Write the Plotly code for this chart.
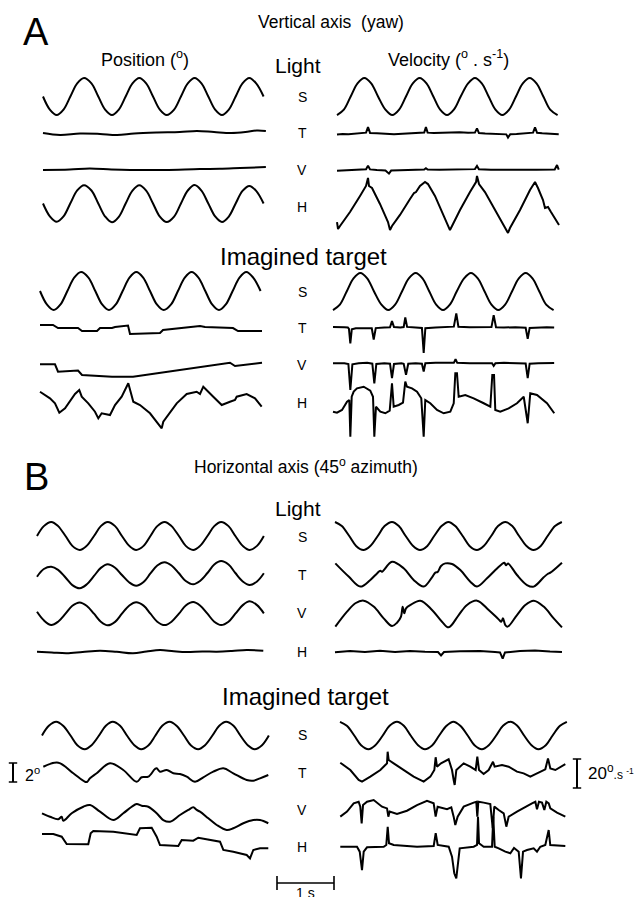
import plotly.graph_objects as go

W, H = 637, 897
PX_PER_S = 57.0      # horizontal scale: pixels per second
PX_PER_DEG = 9.5     # position traces: pixels per degree
PX_PER_DEGS = 1.45   # velocity traces: pixels per deg/s
FONT = "Liberation Sans, Arial, Helvetica, sans-serif"

# ---------------- data (time in s, position in deg, velocity in deg/s) ----------------
T_A = [0.00, 0.12, 0.24, 0.36, 0.48, 0.60, 0.72, 0.85, 0.97, 1.09, 1.21, 1.33, 1.45, 1.57, 1.69, 1.81,
       1.93, 2.05, 2.17, 2.30, 2.42, 2.54, 2.66, 2.78, 2.90, 3.02, 3.14, 3.26, 3.38, 3.50, 3.62, 3.74, 3.87]
T_B = [0.00, 0.12, 0.25, 0.37, 0.50, 0.62, 0.75, 0.87, 1.00, 1.12, 1.24, 1.37, 1.49, 1.62, 1.74, 1.87,
       1.99, 2.11, 2.24, 2.36, 2.49, 2.61, 2.74, 2.86, 2.99, 3.11, 3.23, 3.36, 3.48, 3.61, 3.73, 3.86, 3.98]

# --- A, Light, position ---
A_L_POS_S = [0.0, -1.38, -1.95, -1.38, 0.0, 1.38, 1.95, 1.38, 0.0, -1.38, -1.95, -1.38, 0.0, 1.38, 1.95, 1.38,
             0.0, -1.38, -1.95, -1.38, 0.0, 1.38, 1.95, 1.38, 0.0, -1.38, -1.95, -1.38, 0.0, 1.38, 1.95, 1.38, 0.0]
A_L_POS_T_t = [0.0, 0.30, 0.65, 1.0, 1.30, 1.60, 2.0, 2.40, 2.70, 3.0, 3.30, 3.55, 3.75, 3.91]
A_L_POS_T_v = [0.0, -0.21, -0.05, -0.10, -0.21, -0.05, 0.05, 0.10, 0.21, 0.10, 0.0, 0.10, 0.26, 0.21]
A_L_POS_V_t = [0.0, 0.47, 0.82, 1.20, 1.53, 2.14, 2.75, 3.10, 3.46, 3.91]
A_L_POS_V_v = [-0.10, -0.05, 0.05, -0.05, -0.10, -0.10, 0.0, 0.02, 0.10, 0.20]
A_L_POS_H = [0.0, -1.35, -1.92, -1.36, 0.02, 1.38, 1.93, 1.37, 0.0, -1.37, -1.98, -1.40, 0.0, 1.36, 1.92, 1.35,
             0.0, -1.38, -1.96, -1.38, 0.0, 1.37, 1.95, 1.36, 0.0, -1.36, -1.94, -1.37, 0.0, 1.32, 1.85, 1.33, 0.0]

# --- A, Light, velocity ---
A_L_VEL_S = [-12.8, -9.05, 0.0, 9.05, 12.8, 9.05, 0.0, -9.05, -12.8, -9.05, 0.0, 9.05, 12.8, 9.05, 0.0, -9.05,
             -12.8, -9.05, 0.0, 9.05, 12.8, 9.05, 0.0, -9.05, -12.8, -9.05, 0.0, 9.05, 12.8, 9.05, 0.0, -9.05, -12.8]
A_L_VEL_T_t = [0, 0.1, 0.2, 0.3, 0.42, 0.51, 0.544, 0.58, 0.7, 0.85, 1.0, 1.15, 1.3, 1.45, 1.53, 1.56, 1.59,
               1.7, 1.85, 2.0, 2.15, 2.3, 2.42, 2.456, 2.49, 2.6, 2.75, 2.9, 2.97, 3.0, 3.04, 3.15, 3.3, 3.44,
               3.474, 3.51, 3.6, 3.75, 3.89]
A_L_VEL_T_v = [-0.7, -0.3, -0.5, -0.1, 0.2, 0.6, 4.5, 0.4, 0.2, -0.4, -0.6, -0.2, 0.3, 0.5, 0.7, 4.4, 0.6,
               0.3, 0.6, 0.4, 0.9, 0.5, 0.6, 3.5, 0.3, 0.0, -0.3, -0.5, -0.6, -2.8, -0.5, -0.3, 0.2, 0.6,
               4.3, 0.5, 0.1, -0.2, -0.5]
A_L_VEL_V_t = [0, 0.15, 0.3, 0.45, 0.51, 0.544, 0.58, 0.7, 0.85, 0.912, 0.95, 1.1, 1.3, 1.53, 1.56, 1.59,
               1.8, 2.0, 2.2, 2.42, 2.456, 2.49, 2.7, 2.9, 3.1, 3.3, 3.5, 3.7, 3.82, 3.86, 3.89]
A_L_VEL_V_v = [-0.5, -0.3, 0.0, 0.3, 0.5, 3.0, 0.4, 0.0, -0.3, -2.5, -0.4, -0.2, 0.1, 0.3, 1.2, 0.3,
               0.1, 0.3, 0.4, 0.6, 2.8, 0.5, 0.2, 0.0, -0.1, 0.1, 0.2, 0.3, 0.4, 3.4, 0.3]
A_L_VEL_H_t = [0, 0.018, 0.053, 0.228, 0.404, 0.509, 0.544, 0.561, 0.614, 0.754, 0.895, 0.93, 0.965, 1.105,
               1.281, 1.351, 1.386, 1.456, 1.544, 1.596, 1.719, 1.895, 1.982, 2.018, 2.158, 2.333, 2.439,
               2.456, 2.491, 2.596, 2.772, 2.947, 3.0, 3.035, 3.211, 3.386, 3.474, 3.526, 3.614, 3.649,
               3.702, 3.754, 3.825, 3.895]
A_L_VEL_H_v = [-12.8, -17.6, -15.5, -5.9, 5.2, 12.1, 17.6, 12.1, 10.7, -0.3, -12.8, -18.3, -15.5, -7.9,
               3.1, 7.2, 7.9, 12.1, 14.8, 13.4, 5.2, -10.0, -18.3, -15.5, -4.5, 7.9, 14.8,
               19.0, 13.4, 7.9, -4.5, -16.9, -20.3, -16.9, -4.5, 9.3, 14.8, 10.7, 2.4, -3.1,
               -2.4, -5.9, -10.0, -14.8]

# --- A, Imagined target, position ---
A_I_POS_S = [0.0, -1.41, -2.0, -1.41, 0.0, 1.41, 2.0, 1.41, 0.0, -1.41, -2.0, -1.41, 0.0, 1.41, 2.0, 1.41,
             0.0, -1.41, -2.0, -1.41, 0.0, 1.41, 2.0, 1.41, 0.0, -1.41, -2.0, -1.41, 0.0, 1.41, 2.0, 1.41, 0.0]
A_I_POS_T_t = [0, 0.228, 0.316, 0.667, 0.737, 1.0, 1.053, 1.263, 1.316, 1.544, 1.579, 2.105, 2.158, 2.807,
               2.895, 3.386, 3.474, 3.895]
A_I_POS_T_v = [0.42, 0.42, 0.10, 0.10, -0.21, -0.21, 0.10, 0.10, 0.21, 0.37, -0.53, -0.42, -0.10, 0.32,
               0.21, 0.10, -0.21, -0.21]
A_I_POS_V_t = [0, 0.263, 0.316, 0.667, 0.737, 1.263, 1.632, 2.105, 2.807, 3.333, 3.421, 3.895]
A_I_POS_V_v = [0.39, 0.39, -0.39, -0.26, -0.74, -0.92, -0.92, -0.49, 0.14, 0.56, 0.21, 0.56]
A_I_POS_H_t = [0, 0.175, 0.263, 0.339, 0.439, 0.614, 0.689, 0.732, 0.847, 0.965, 1.023, 1.082, 1.228,
               1.316, 1.433, 1.549, 1.637, 1.754, 1.930, 2.047, 2.135, 2.163, 2.251, 2.398, 2.574, 2.749,
               2.807, 2.865, 3.040, 3.188, 3.333, 3.421, 3.451, 3.626, 3.772, 3.889]
A_I_POS_H_v = [0.87, 0.18, -0.35, -1.34, -0.87, 0.63, 1.05, 0.35, -0.35, -1.23, -1.93, -1.40, -1.58,
               -0.53, 0.35, 1.76, -0.18, -0.53, -1.40, -2.28, -2.98, -2.28, -1.58, -0.35, 0.63, 0.87,
               0.63, 1.40, 0.35, -0.53, -0.18, 0.0, 0.35, 0.63, 0.18, -0.71]

# --- A, Imagined target, velocity ---
A_I_VEL_S = [-12.8, -9.05, 0.0, 9.05, 12.8, 9.05, 0.0, -9.05, -12.8, -9.05, 0.0, 9.05, 12.8, 9.05, 0.0, -9.05,
             -12.8, -9.05, 0.0, 9.05, 12.8, 9.05, 0.0, -9.05, -12.8, -9.05, 0.0, 9.05, 12.8, 9.05, 0.0, -9.05, -12.8]
A_I_VEL_T_t = [0, 0.1, 0.2, 0.26, 0.28, 0.304, 0.33, 0.4, 0.55, 0.68, 0.714, 0.75, 0.9, 1.0, 1.035, 1.07,
               1.18, 1.24, 1.268, 1.3, 1.45, 1.56, 1.591, 1.62, 1.8, 2.0, 2.12, 2.163, 2.2, 2.4, 2.6, 2.78,
               2.819, 2.86, 3.0, 3.2, 3.38, 3.416, 3.45, 3.6, 3.75, 3.88]
A_I_VEL_T_v = [0.3, 0.5, 0.2, 0.0, -1.0, -11.0, -1.2, -0.5, -0.3, -0.5, -8.3, -0.4, 0.0, 0.2, 4.4, 0.3,
               0.0, 0.3, 6.9, 0.4, 0.0, -0.3, -17.5, -0.5, 0.0, 0.2, 0.6, 9.7, 0.5, 0.2, 0.0, 0.3,
               8.5, 0.2, 0.0, 0.2, -0.2, -7.8, -0.3, 0.0, 0.2, 0.0]
A_I_VEL_V_t = [0, 0.1, 0.2, 0.27, 0.304, 0.34, 0.45, 0.6, 0.69, 0.725, 0.76, 0.9, 1.0, 1.035, 1.07, 1.2,
               1.24, 1.281, 1.32, 1.45, 1.56, 1.591, 1.62, 1.8, 2.0, 2.12, 2.15, 2.18, 2.4, 2.6, 2.79,
               2.819, 2.85, 3.0, 3.2, 3.38, 3.416, 3.45, 3.6, 3.75, 3.88]
A_I_VEL_V_v = [0.0, 0.3, 0.1, -0.5, -18.4, -0.7, 0.0, 0.3, -0.3, -13.8, -0.5, 0.0, -0.3, -10.3, -0.5, 0.0,
               -0.4, -8.0, -0.3, 0.0, -0.3, -5.7, 0.0, 0.3, 0.1, 0.3, 2.8, 0.3, 0.0, 0.2, 0.0,
               -1.8, 0.1, 0.3, 0.0, -0.2, -10.3, -0.3, 0.0, 0.3, 0.2]
A_I_VEL_H_t = [0, 0.070, 0.158, 0.246, 0.286, 0.304, 0.328, 0.363, 0.421, 0.539, 0.654, 0.702, 0.725, 0.754,
               0.830, 0.918, 0.995, 1.035, 1.065, 1.153, 1.228, 1.268, 1.298, 1.386, 1.474, 1.549, 1.591,
               1.619, 1.707, 1.825, 1.942, 2.058, 2.118, 2.146, 2.175, 2.205, 2.321, 2.468, 2.644, 2.760,
               2.795, 2.825, 2.847, 2.935, 3.082, 3.228, 3.346, 3.416, 3.461, 3.579, 3.754, 3.882]
A_I_VEL_H_v = [-4.6, -5.3, -3.4, 2.3, 3.4, -21.9, 5.7, 9.2, 11.5, 12.6, 9.9, 5.7, -21.9, -1.2,
               -4.6, -5.7, -3.9, 15.0, -1.2, 0.0, 1.6, 16.1, 12.6, 11.5, 9.2, 4.6, -21.9,
               3.4, 1.2, -3.4, -5.7, -4.6, 1.2, 21.9, 21.9, 5.7, 6.9, 4.6, 1.2, -1.2,
               20.7, 20.7, -3.4, -4.6, -2.3, 1.2, 5.7, -12.6, 8.1, 6.9, 1.2, -5.7]

# --- B, Light, position ---
B_L_POS_S = [0.0, 1.04, 1.47, 1.04, 0.0, -1.04, -1.47, -1.04, 0.0, 1.04, 1.47, 1.04, 0.0, -1.04, -1.47, -1.04,
             0.0, 1.04, 1.47, 1.04, 0.0, -1.04, -1.47, -1.04, 0.0, 1.04, 1.47, 1.04, 0.0, -1.04, -1.47, -1.04, 0.0]
B_L_POS_T = [-0.18, 0.63, 0.87, 0.54, -0.26, -1.06, -1.40, -1.00, -0.10, 0.75, 1.13, 0.76, 0.0, -0.79, -1.13,
             -0.74, 0.16, 1.0, 1.34, 1.0, 0.18, -0.63, -0.98, -0.63, 0.21, 1.1, 1.47, 1.1, 0.21, -0.68, -1.05,
             -0.68, 0.18]
B_L_POS_V = [0.20, -0.70, -1.19, -0.84, 0.0, 0.84, 1.19, 0.84, 0.0, -0.84, -1.22, -0.86, 0.0, 0.86, 1.20, 0.85,
             0.0, -0.84, -1.20, -0.84, 0.0, 0.86, 1.22, 0.86, 0.0, -0.84, -1.19, -0.84, 0.0, 0.90, 1.30, 0.90, 0.04]
B_L_POS_H_t = [0, 0.26, 0.52, 0.80, 1.105, 1.40, 1.684, 1.92, 2.158, 2.40, 2.626, 2.90, 3.153, 3.42, 3.679, 3.97]
B_L_POS_H_v = [0.03, -0.05, -0.14, 0.0, 0.14, 0.02, -0.14, 0.05, 0.21, 0.08, 0.0, 0.06, 0.03, 0.10, 0.21, 0.14]

# --- B, Light, velocity ---
B_L_VEL_S = [9.66, 6.83, 0.0, -6.83, -9.66, -6.83, 0.0, 6.83, 9.66, 6.83, 0.0, -6.83, -9.66, -6.83, 0.0, 6.83,
             9.66, 6.83, 0.0, -6.83, -9.66, -6.83, 0.0, 6.83, 9.66, 6.83, 0.0, -6.83, -9.66, -6.83, 0.0, 6.83, 9.66]
B_L_VEL_T_t = [0.006, 0.240, 0.444, 0.620, 0.737, 0.795, 0.825, 1.0, 1.205, 1.380, 1.556, 1.702, 1.760, 1.801,
               1.860, 1.935, 2.053, 2.199, 2.374, 2.491, 2.667, 2.813, 2.930, 2.971, 3.0, 3.035, 3.193, 3.368,
               3.485, 3.661, 3.731, 3.778, 3.982]
B_L_VEL_T_v = [8.0, -1.1, -8.0, -3.4, 1.1, 3.0, 2.3, 9.2, 4.6, -3.4, -8.0, -1.6, 1.6, 2.1,
               6.2, 8.0, 7.6, 3.4, -4.6, -8.0, -2.3, 3.4, 7.6, 8.5, 6.7, 8.0, 0.0, -6.9,
               -8.0, -1.6, 0.7, 1.6, 8.5]
B_L_VEL_V_t = [0.006, 0.211, 0.357, 0.503, 0.678, 0.854, 1.0, 1.088, 1.158, 1.187, 1.216, 1.246, 1.322, 1.497,
               1.702, 1.877, 1.994, 2.170, 2.316, 2.491, 2.696, 2.871, 2.918, 2.947, 2.988, 3.030, 3.193,
               3.339, 3.486, 3.661, 3.837, 3.982]
B_L_VEL_V_v = [-8.7, 1.6, 7.4, 9.2, 5.1, -3.0, -8.3, -6.0, -1.8, 5.0, 0.5, 3.9, 6.2, 9.2,
               2.8, -5.3, -9.2, -0.7, 6.2, 9.2, 2.8, -3.7, -5.3, -3.0, -7.6, -8.7, -0.7,
               6.2, 9.2, 5.1, -3.0, -9.2]
B_L_VEL_H_t = [0, 0.263, 0.526, 0.789, 1.053, 1.316, 1.579, 1.807, 1.86, 1.912, 2.193, 2.544, 2.807, 2.895,
               2.942, 2.982, 3.246, 3.509, 3.772, 3.982]
B_L_VEL_H_v = [-0.2, 0.7, 0.0, 0.9, 0.0, 0.7, 0.2, 0.0, -2.4, 0.0, 0.5, 0.7, 0.0, -0.3,
               -4.5, -0.3, 0.7, 1.1, 0.3, 0.0]

# --- B, Imagined target, position ---
B_I_POS_S = [0.0, 1.02, 1.44, 1.02, 0.0, -1.02, -1.44, -1.02, 0.0, 1.02, 1.44, 1.02, 0.0, -1.02, -1.44, -1.02,
             0.0, 1.02, 1.44, 1.02, 0.0, -1.02, -1.44, -1.02, 0.0, 1.02, 1.44, 1.02, 0.0, -1.02, -1.44, -1.02, 0.0]
B_I_POS_T_t = [0.023, 0.286, 0.549, 0.754, 0.795, 0.842, 0.960, 1.193, 1.426, 1.661, 1.749, 1.865, 1.982,
               2.012, 2.070, 2.188, 2.304, 2.421, 2.539, 2.684, 2.830, 3.005, 3.181, 3.356, 3.591, 3.707,
               3.825, 3.970]
B_I_POS_T_v = [0.66, 1.08, -0.03, -0.92, -0.92, -0.56, -0.03, 1.02, 0.32, -0.92, -0.45, -0.39, 0.42,
               0.49, 0.14, 0.32, -0.03, -0.11, -0.39, -0.92, -0.45, 0.14, 0.49, -0.03, -0.74, -0.81,
               -0.56, -0.21]
B_I_POS_V_t = [0, 0.140, 0.286, 0.345, 0.374, 0.521, 0.725, 0.842, 1.018, 1.251, 1.426, 1.574, 1.661, 1.749,
               1.865, 2.012, 2.128, 2.246, 2.421, 2.567, 2.654, 2.714, 2.772, 2.918, 3.065, 3.240, 3.356,
               3.532, 3.707, 3.825, 3.970]
B_I_POS_V_v = [-0.03, -0.39, -0.66, -0.39, -0.81, -0.03, 0.66, 0.84, 0.14, -0.74, -0.03, 0.66, 0.95, 0.77,
               0.66, -0.03, -0.74, -0.92, -0.21, 0.32, 0.60, 0.32, 0.14, -0.56, -1.26, -1.79, -1.61,
               -1.08, -0.74, -0.74, -1.08]
B_I_POS_H_t = [0, 0.198, 0.346, 0.404, 0.433, 0.812, 0.854, 0.900, 1.251, 1.661, 1.719, 1.925, 2.012, 2.070,
               2.391, 2.451, 2.654, 2.742, 2.889, 3.123, 3.181, 3.356, 3.591, 3.649, 3.707, 3.825, 3.970]
B_I_POS_H_v = [0.63, 0.63, 0.35, -0.18, -0.42, -0.45, 0.71, 0.95, 0.87, 0.53, 1.23, 1.29, 0.35, -0.53,
               -0.63, 0.0, -0.07, 0.24, 0.07, -0.18, -1.05, -1.23, -1.58, -1.93, -1.05, -0.87, -0.87]

# --- B, Imagined target, velocity ---
B_I_VEL_S = [9.45, 6.68, 0.0, -6.68, -9.45, -6.68, 0.0, 6.68, 9.45, 6.68, 0.0, -6.68, -9.45, -6.68, 0.0, 6.68,
             9.45, 6.68, 0.0, -6.68, -9.45, -6.68, 0.0, 6.68, 9.45, 6.68, 0.0, -6.68, -9.45, -6.68, 0.0, 6.68, 9.45]
B_I_VEL_T_t = [0.005, 0.181, 0.327, 0.386, 0.532, 0.708, 0.795, 0.825, 0.836, 0.854, 0.942, 1.117, 1.292,
               1.468, 1.585, 1.655, 1.678, 1.702, 1.772, 1.906, 1.965, 1.994, 2.012, 2.041, 2.170, 2.286,
               2.380, 2.409, 2.439, 2.520, 2.608, 2.684, 2.713, 2.842, 2.959, 3.105, 3.222, 3.339, 3.485,
               3.602, 3.649, 3.690, 3.778, 3.953]
B_I_VEL_T_v = [5.0, 0.0, -6.9, -8.0, -4.6, 0.0, 3.4, 4.6, 12.6, 6.9, 4.6, 0.0, -4.6,
               -8.0, -4.6, 0.0, 8.8, 2.3, 4.6, 7.4, 0.0, -6.9, -10.3, 0.0, 4.6, 2.3,
               0.0, 9.2, 0.0, -2.8, 0.0, 5.7, 2.3, 3.4, 2.3, -1.1, -2.3, -4.6, -1.8,
               0.5, 8.0, 1.1, 0.0, 4.1]
B_I_VEL_V_t = [0.005, 0.123, 0.240, 0.327, 0.356, 0.380, 0.404, 0.474, 0.591, 0.737, 0.825, 0.848, 0.871,
               1.0, 1.175, 1.351, 1.526, 1.643, 1.678, 1.713, 1.877, 1.953, 1.994, 2.023, 2.064, 2.170,
               2.345, 2.391, 2.409, 2.427, 2.520, 2.637, 2.679, 2.707, 2.784, 2.872, 2.918, 2.959, 3.105,
               3.251, 3.368, 3.427, 3.456, 3.491, 3.544, 3.585, 3.620, 3.662, 3.690, 3.807, 3.953]
B_I_VEL_V_v = [-4.6, -1.1, 4.6, 5.7, 2.3, -9.2, 3.4, 5.7, 6.9, 2.3, 1.1, -4.6, -1.1,
               -2.8, -0.5, 3.4, 6.4, 4.6, -4.6, 2.3, 0.5, 1.8, -4.6, -10.3, -4.6, 2.3,
               5.1, 5.7, -4.6, 5.7, 5.1, 4.1, -12.6, 2.3, 0.0, -2.3, -11.5, -4.6, -1.1,
               2.3, 4.6, 5.7, 0.5, 5.7, 5.1, 0.0, 5.7, 4.6, 1.1, -1.8, -4.6]
B_I_VEL_H_t = [0.005, 0.298, 0.346, 0.386, 0.416, 0.474, 0.767, 0.812, 0.837, 0.860, 0.942, 1.351, 1.644,
               1.679, 1.714, 1.907, 1.965, 2.005, 2.040, 2.065, 2.100, 2.346, 2.404, 2.421, 2.439, 2.521,
               2.667, 2.689, 2.714, 2.784, 2.842, 2.900, 2.988, 3.053, 3.135, 3.175, 3.211, 3.281, 3.398,
               3.456, 3.514, 3.602, 3.661, 3.689, 3.953]
B_I_VEL_H_v = [-0.5, -0.5, -3.9, -16.6, -3.9, -0.9, -0.5, 0.7, 13.3, 1.9, 0.7, -0.5, 0.0,
               8.8, 0.7, -0.5, -7.4, -18.8, -22.3, -11.9, -1.6, -0.5, 0.7, 20.2, 1.9, -0.5,
               -0.5, 20.2, -0.5, -1.6, -2.8, -3.9, -5.0, -1.4, -3.9, -22.3, -3.9, -2.8, -1.6,
               -3.9, -0.5, 0.7, 11.0, 0.7, 0.0]

# scale bars
SCALE_TIME_S = 1.0
SCALE_POS_DEG = 2.0
SCALE_VEL_DEGS = 20.0

ROW_LABELS = ["S", "T", "V", "H"]

# ---------------- layout of the traces (pixel anchors) ----------------
BLOCKS = {
    "A_L": (43, 337, [96.5, 133, 169, 203.5], [96.5, 133.5, 170, 203.5]),
    "A_I": (40, 333, [291, 329, 368, 400], [291.5, 327.5, 363.3, 405]),
    "B_L": (37, 335, [536, 575, 613.7, 652], [536, 575, 614, 652]),
    "B_I": (42, 340, [735.5, 773, 813, 840], [735.5, 770, 810, 846]),
}
LABEL_Y = {"A_L": [97, 133, 170, 207], "A_I": [292, 328, 365, 403],
           "B_L": [537, 575, 613, 652], "B_I": [735, 773, 810, 847]}

TRACES = {
    "A_L": [
        [(T_A, A_L_POS_S, "spline"), (A_L_POS_T_t, A_L_POS_T_v, "spline"),
         (A_L_POS_V_t, A_L_POS_V_v, "spline"), (T_A, A_L_POS_H, "spline")],
        [(T_A, A_L_VEL_S, "spline"), (A_L_VEL_T_t, A_L_VEL_T_v, "linear"),
         (A_L_VEL_V_t, A_L_VEL_V_v, "linear"), (A_L_VEL_H_t, A_L_VEL_H_v, "linear")],
    ],
    "A_I": [
        [(T_A, A_I_POS_S, "spline"), (A_I_POS_T_t, A_I_POS_T_v, "linear"),
         (A_I_POS_V_t, A_I_POS_V_v, "linear"), (A_I_POS_H_t, A_I_POS_H_v, "linear")],
        [(T_A, A_I_VEL_S, "spline"), (A_I_VEL_T_t, A_I_VEL_T_v, "linear"),
         (A_I_VEL_V_t, A_I_VEL_V_v, "linear"), (A_I_VEL_H_t, A_I_VEL_H_v, "linear")],
    ],
    "B_L": [
        [(T_B, B_L_POS_S, "spline"), (T_B, B_L_POS_T, "spline"),
         (T_B, B_L_POS_V, "spline"), (B_L_POS_H_t, B_L_POS_H_v, "spline")],
        [(T_B, B_L_VEL_S, "spline"), (B_L_VEL_T_t, B_L_VEL_T_v, "spline"),
         (B_L_VEL_V_t, B_L_VEL_V_v, "spline"), (B_L_VEL_H_t, B_L_VEL_H_v, "linear")],
    ],
    "B_I": [
        [(T_B, B_I_POS_S, "spline"), (B_I_POS_T_t, B_I_POS_T_v, "spline"),
         (B_I_POS_V_t, B_I_POS_V_v, "spline"), (B_I_POS_H_t, B_I_POS_H_v, "linear")],
        [(T_B, B_I_VEL_S, "spline"), (B_I_VEL_T_t, B_I_VEL_T_v, "linear"),
         (B_I_VEL_V_t, B_I_VEL_V_v, "linear"), (B_I_VEL_H_t, B_I_VEL_H_v, "linear")],
    ],
}

fig = go.Figure()
layout = {}
counter = [0]


def new_axes(x0_px, x_scale, x_lo, x_hi, yc_px, y_scale, half_px=48):
    counter[0] += 1
    n = counter[0]
    xk = "xaxis" if n == 1 else f"xaxis{n}"
    yk = "yaxis" if n == 1 else f"yaxis{n}"
    xr = "x" if n == 1 else f"x{n}"
    yr = "y" if n == 1 else f"y{n}"
    layout[xk] = dict(domain=[(x0_px + x_lo * x_scale) / W, (x0_px + x_hi * x_scale) / W],
                      range=[x_lo, x_hi], visible=False, fixedrange=True, anchor=yr)
    layout[yk] = dict(domain=[1 - (yc_px + half_px) / H, 1 - (yc_px - half_px) / H],
                      range=[-half_px / y_scale, half_px / y_scale], visible=False,
                      fixedrange=True, anchor=xr)
    return xr, yr


LINE_W = 2.0
for bkey, (x0l, x0r, rows_l, rows_r) in BLOCKS.items():
    for col in (0, 1):
        x0 = x0l if col == 0 else x0r
        rows = rows_l if col == 0 else rows_r
        scale = PX_PER_DEG if col == 0 else PX_PER_DEGS
        for r in range(4):
            t, v, shape = TRACES[bkey][col][r]
            xr, yr = new_axes(x0, PX_PER_S, -0.15, 4.15, rows[r], scale)
            line = dict(color="black", width=LINE_W, shape=shape)
            if shape == "spline":
                line["smoothing"] = 1.0
            fig.add_trace(go.Scatter(x=t, y=v, mode="lines", line=line, xaxis=xr, yaxis=yr,
                                     hoverinfo="skip", showlegend=False))

# scale bars
xr, yr = new_axes(277, PX_PER_S, -0.2, 1.2, 883, 1.0, half_px=10)
fig.add_trace(go.Scatter(x=[0, SCALE_TIME_S], y=[0, 0], mode="lines+markers", xaxis=xr, yaxis=yr,
                         line=dict(color="black", width=1.6),
                         marker=dict(symbol="line-ns", size=10, color="black",
                                     line=dict(color="black", width=1.6)),
                         hoverinfo="skip", showlegend=False))
xr, yr = new_axes(13, PX_PER_S, -0.1, 0.1, 772.5, PX_PER_DEG, half_px=14)
fig.add_trace(go.Scatter(x=[0, 0], y=[-SCALE_POS_DEG / 2, SCALE_POS_DEG / 2], mode="lines+markers",
                         xaxis=xr, yaxis=yr, line=dict(color="black", width=2.0),
                         marker=dict(symbol="line-ew", size=6, color="black",
                                     line=dict(color="black", width=1.6)),
                         hoverinfo="skip", showlegend=False))
xr, yr = new_axes(577, PX_PER_S, -0.1, 0.1, 773.5, PX_PER_DEGS, half_px=20)
fig.add_trace(go.Scatter(x=[0, 0], y=[-SCALE_VEL_DEGS / 2, SCALE_VEL_DEGS / 2], mode="lines+markers",
                         xaxis=xr, yaxis=yr, line=dict(color="black", width=2.0),
                         marker=dict(symbol="line-ew", size=6, color="black",
                                     line=dict(color="black", width=1.6)),
                         hoverinfo="skip", showlegend=False))

# ---------------- text ----------------
ann = []


def text(s, x_px, y_px, size, xanchor="center"):
    ann.append(dict(text=s, x=x_px / W, y=1 - y_px / H, xref="paper", yref="paper",
                    xanchor=xanchor, yanchor="middle", showarrow=False,
                    font=dict(family=FONT, size=size, color="black")))


text("A", 35.5, 32, 38)
text("Vertical axis\u00a0 (yaw)", 330.5, 22, 17.5)
text("Position (<sup>o</sup>)", 145, 59, 18)
text("Light", 298, 66, 21)
text("Velocity (<sup>o</sup> . s<sup>-1</sup>)", 448, 58, 18)
text("Imagined target", 303.5, 256, 24)
text("B", 36, 476.5, 38)
text("Horizontal axis (45<sup>o</sup> azimuth)", 305.5, 466, 17.5)
text("Light", 298, 508, 21)
text("Imagined target", 305.5, 696.5, 24)
for bkey, ys in LABEL_Y.items():
    for lab, yy in zip(ROW_LABELS, ys):
        text(lab, 302, yy, 14)
text("2<sup>o</sup>", 23, 774, 16, xanchor="left")
text("20<sup>o</sup><span style='font-size:12px'>.s <sup>-1</sup></span>", 586, 772, 17, xanchor="left")
text("1 s", 305, 893, 14)

layout.update(dict(width=W, height=H, margin=dict(l=0, r=0, t=0, b=0),
                   paper_bgcolor="white", plot_bgcolor="rgba(0,0,0,0)",
                   showlegend=False, annotations=ann))
fig.update_layout(**layout)
fig.write_html("out.html")
